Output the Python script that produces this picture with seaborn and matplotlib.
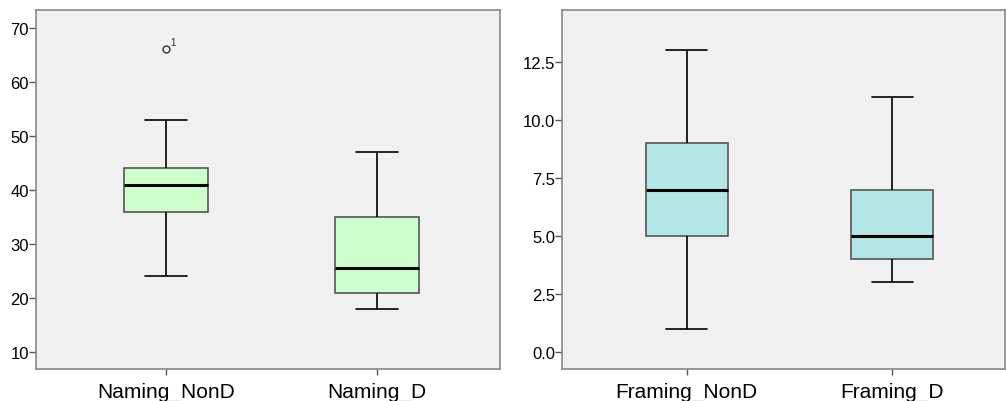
import numpy as np
import pandas as pd
import matplotlib
matplotlib.use("Agg")
import matplotlib.pyplot as plt
import seaborn as sns

# five-number summaries (whisker low, Q1, median, Q3, whisker high)
naming_labels = ["Naming_NonD", "Naming_D"]
naming_stats = [[24, 36, 41, 44, 53], [18, 21, 25.5, 35, 47]]
naming_outliers = [[66], []]
naming_outlier_ids = [["1"], []]

framing_labels = ["Framing_NonD", "Framing_D"]
framing_stats = [[1, 5, 7, 9, 13], [3, 4, 5, 7, 11]]
framing_outliers = [[], []]


def build_frame(labels, stats, outliers):
    # rebuild a sample whose quartiles/whiskers match the summary
    rows = []
    for lab, s, out in zip(labels, stats, outliers):
        lo, q1, med, q3, hi = s
        vals = [lo] + [q1] * 4 + [med] * 4 + [q3] * 4 + [hi] + list(out)
        rows += [(lab, v) for v in vals]
    return pd.DataFrame(rows, columns=["group", "value"])


sns.set_style("white")
plt.rcParams["font.family"] = ["Liberation Sans", "DejaVu Sans"]

fig = plt.figure(figsize=(10.06, 4.02), dpi=100)
ax1 = fig.add_axes([36 / 1006, 32 / 402, 464 / 1006, 359 / 402])
ax2 = fig.add_axes([562 / 1006, 32 / 402, 443 / 1006, 359 / 402])


def draw(ax, labels, stats, outliers, color):
    df = build_frame(labels, stats, outliers)
    sns.boxplot(
        data=df, x="group", y="value", order=labels, ax=ax,
        color=color, saturation=1, width=0.40, linewidth=1.2,
        boxprops=dict(edgecolor="#555555", facecolor=color),
        whiskerprops=dict(color="black"),
        capprops=dict(color="black"),
        medianprops=dict(color="black", linewidth=2.2),
        flierprops=dict(marker="o", markerfacecolor="none",
                        markeredgecolor="#333333", markersize=5, markeredgewidth=1),
    )
    ax.set_facecolor("#f0f0f0")
    for sp in ax.spines.values():
        sp.set_color("#888888")
        sp.set_linewidth(1.2)
    ax.set_xlabel("")
    ax.set_ylabel("")
    ax.tick_params(axis="y", direction="out", length=5, width=1, color="#555555",
                   labelsize=12, labelcolor="black", pad=0, left=True)
    ax.tick_params(axis="x", direction="out", length=4, width=1, color="#555555",
                   labelsize=15, labelcolor="black", pad=5, bottom=True)


draw(ax1, naming_labels, naming_stats, naming_outliers, "#ccffcc")
draw(ax2, framing_labels, framing_stats, framing_outliers, "#b3e6e6")

ax1.set_xlim(-0.616, 1.583)
ax1.set_ylim(6.85, 73.3)
ax1.set_yticks([10, 20, 30, 40, 50, 60, 70])

ax2.set_xlim(-0.607, 1.55)
ax2.set_ylim(-0.73, 14.74)
ax2.set_yticks([0, 2.5, 5, 7.5, 10, 12.5])
ax2.set_yticklabels(["0.0", "2.5", "5.0", "7.5", "10.0", "12.5"])

# case id next to the outlier
for i, (outs, ids) in enumerate(zip(naming_outliers, naming_outlier_ids)):
    for v, t in zip(outs, ids):
        ax1.annotate(t, (i, v), xytext=(3, 2), textcoords="offset points",
                     fontsize=7, ha="left", va="bottom")

fig.savefig("out.png", dpi=100)
